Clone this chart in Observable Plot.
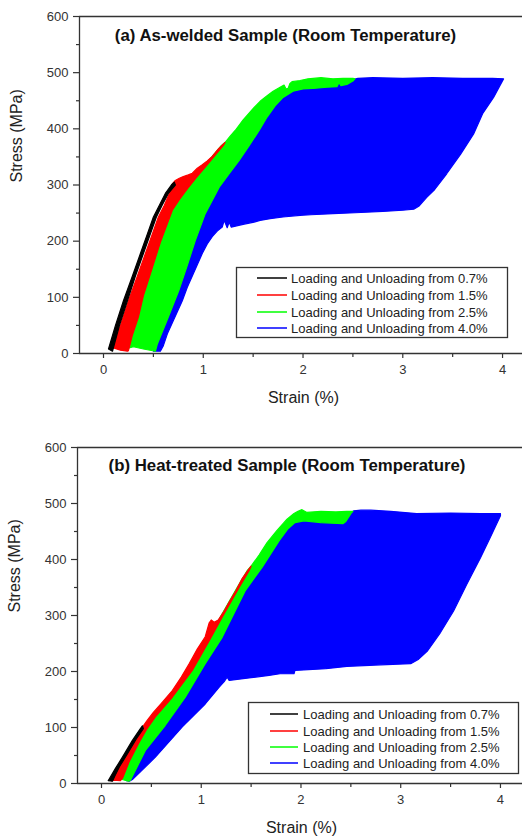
<!DOCTYPE html>
<html>
<head>
<meta charset="utf-8">
<script src="https://cdn.jsdelivr.net/npm/d3@7"></script>
<script src="https://cdn.jsdelivr.net/npm/@observablehq/plot@0.6"></script>
<style>
  html, body { margin: 0; padding: 0; background: #fff; overflow: hidden; }
  #wrap { position: relative; width: 522px; height: 837px; overflow: hidden; font-family: "Liberation Sans", Arial, sans-serif; }
  #wrap svg.plot { display: block; }
  #overlay { position: absolute; left: 0; top: 0; pointer-events: none; }
</style>
</head>
<body>
<div id="wrap"></div>
<script>
// ---------- data (strain %, stress MPa): outlines of the filled cyclic bands ----------
const seriesNames = ["Loading and Unloading from 0.7%", "Loading and Unloading from 1.5%",
                     "Loading and Unloading from 2.5%", "Loading and Unloading from 4.0%"];
const seriesColors = ["#000000", "#ff0000", "#00ff00", "#0000ff"];

const yMajorTicks = [0, 100, 200, 300, 400, 500, 600];
const yMinorTicks = [50, 150, 250, 350, 450, 550];
const xMajorTicks = [0, 1, 2, 3, 4];
const xMinorTicks = [0.5, 1.5, 2.5, 3.5];

const titleA = "(a) As-welded Sample (Room Temperature)";
const titleB = "(b) Heat-treated Sample (Room Temperature)";
const xLabel = "Strain (%)";
const yLabel = "Stress (MPa)";

// Panel (a) As-welded
const aBlack = [[0.05,8],[0.12,50],[0.20,94],[0.29,138],[0.37,178],[0.44,213],[0.50,243],[0.56,264],[0.62,285],[0.68,300],[0.71,305],
  [0.72,300],[0.65,285],[0.59,265],[0.53,243],[0.47,213],[0.40,178],[0.32,138],[0.24,94],[0.16,50],[0.09,4]];
const aRed = [[0.08,8],[0.17,50],[0.25,94],[0.34,138],[0.42,178],[0.49,213],[0.55,243],[0.61,264],[0.66,285],[0.69,302],
  [0.72,308],[0.76,312],[0.80,315],[0.85,318],[0.89,321],[0.94,330],[0.99,336],[1.04,343],[1.09,351],[1.15,364],[1.19,371],[1.22,376],
  [1.20,370],[1.11,351],[1.02,332],[0.93,313],[0.84,293],[0.76,274],[0.69,255],[0.57,198],[0.47,142],[0.40,103],[0.35,65],[0.29,33],[0.25,5],[0.24,4],
  [0.17,6],[0.10,10]];
const aGreen = [[0.22,8],[0.28,40],[0.34,65],[0.45,142],[0.56,198],[0.67,255],[0.74,274],[0.82,293],[0.91,313],[1.00,332],[1.09,351],[1.18,370],[1.22,376],
  [1.27,387],[1.32,397],[1.40,416],[1.51,438],[1.57,449],[1.64,459],[1.70,467],[1.77,474],[1.81,478],[1.83,471],[1.85,472],[1.87,481],[1.89,484],
  [1.97,486],[2.05,489],[2.18,491],[2.30,489],[2.40,490],[2.50,490],[2.52,489],
  [2.50,485],[2.44,479],[2.38,477],[2.36,482],[2.34,475],[2.24,474],[2.10,472],[2.00,471],[1.90,467],[1.80,456],[1.72,441],[1.64,421],[1.56,397],
  [1.46,370],[1.36,344],[1.26,320],[1.16,296],[1.02,249],[0.92,201],[0.84,157],[0.755,112],[0.65,65],[0.54,17],[0.52,4],
  [0.40,8],[0.30,12]];
const aBlue = [[0.50,4],[0.52,17],[0.73,112],[0.90,201],[1.00,249],[1.14,296],[1.34,344],[1.54,397],[1.70,440],[1.88,467],[2.00,478],[2.24,482],[2.44,485],
  [2.55,490],[2.70,491],[3.00,490],[3.30,491],[3.60,490],[3.90,490],[4.01,489],
  [3.91,456],[3.80,427],[3.71,391],[3.58,355],[3.44,320],[3.32,292],[3.24,278],[3.16,262],[3.11,257],
  [3.00,255],[2.80,253],[2.58,251],[2.30,249],[2.08,247],[1.97,246],[1.80,243],[1.67,240],[1.57,237],[1.51,234],[1.40,230],[1.28,225],[1.26,234],[1.24,224],[1.21,237],[1.19,225],
  [1.14,218],[1.09,208],[1.04,195],[0.99,178],[0.84,118],[0.79,94],[0.64,35],[0.60,14],[0.57,4]];

// Panel (b) Heat-treated
const bBlack = [[0.067,5],[0.14,27],[0.21,47],[0.31,77],[0.39,98],[0.41,103],
  [0.42,98],[0.35,80],[0.25,50],[0.18,30],[0.13,12],[0.11,4]];
const bRed = [[0.10,5],[0.24,47],[0.34,77],[0.40,98],
  [0.46,113],[0.52,127],[0.60,143],[0.71,166],[0.80,190],[0.88,214],[0.96,240],[1.04,262],[1.08,287],[1.10,292],[1.13,288],[1.17,292],[1.22,305],
  [1.28,324],[1.35,345],[1.41,366],[1.47,381],[1.50,388],
  [1.48,380],[1.38,350],[1.30,325],[1.21,297],[1.08,255],[0.91,202],[0.71,154],[0.54,119],[0.45,96],[0.37,71],[0.28,40],[0.21,9],[0.19,5],
  [0.12,6]];
const bGreen = [[0.19,8],[0.26,40],[0.35,71],[0.43,96],[0.52,119],[0.69,154],[0.89,202],[1.06,255],[1.19,297],[1.28,325],[1.36,350],[1.46,380],[1.50,388],
  [1.58,408],[1.66,430],[1.76,452],[1.86,472],[1.93,482],[1.97,486],[2.01,489],[2.06,484],[2.20,486],[2.35,485],[2.46,486],[2.52,486],
  [2.50,482],[2.45,468],[2.42,464],[2.20,466],[2.03,469],[1.94,466],[1.87,455],[1.78,433],[1.61,386],[1.44,344],[1.21,261],[1.04,214],[0.84,154],[0.64,104],[0.44,59],[0.29,6],[0.27,4]];
const bBlue = [[0.25,5],[0.42,59],[0.62,104],[0.82,154],[1.02,214],[1.19,261],[1.42,344],[1.59,386],[1.76,433],[1.86,455],[1.94,468],[2.03,472],[2.42,470],
  [2.47,480],[2.53,487],[2.60,488],[2.70,488],[2.90,486],[3.16,482],[3.50,483],[3.80,482],[4.00,482],
  [4.00,478],[3.90,440],[3.80,403],[3.66,355],[3.53,308],[3.40,270],[3.27,237],[3.18,222],[3.10,214],
  [2.80,212],[2.46,209],[2.25,205],[1.94,202],[1.93,196],[1.79,196],[1.68,193],[1.50,189],[1.28,184],[1.26,190],[1.23,182],
  [1.18,172],[1.04,142],[0.81,101],[0.54,47],[0.31,7],[0.28,4]];

const panelA = [aBlue, aGreen, aRed, aBlack];   // drawn bottom to top
const panelB = [bBlue, bGreen, bRed, bBlack];
const drawColors = [seriesColors[3], seriesColors[2], seriesColors[1], seriesColors[0]];

// ---------- drawing ----------
const axisColor = "#333";
const xMin = -0.2406;

function makePanel({polys, title, height, marginTop, marginBottom, marginLeft, xMax, titleDx, titleDy, xlDx, ylDy}) {
  const svg = Plot.plot({
    width: 522,
    height,
    marginTop, marginBottom, marginLeft, marginRight: 0,
    x: {domain: [xMin, xMax]},
    y: {domain: [0, 600]},
    style: {fontFamily: "'Liberation Sans', Arial, sans-serif", color: axisColor, background: "transparent"},
    marks: [
      ...polys.map((p, i) => Plot.line(p, {x: d => d[0], y: d => d[1], fill: drawColors[i], stroke: drawColors[i], strokeWidth: 1.2, curve: "linear-closed"})),
      Plot.ruleY([600], {stroke: axisColor, strokeWidth: 1.3}),
      Plot.ruleY([0], {stroke: axisColor, strokeWidth: 1.3}),
      Plot.ruleX([xMin], {stroke: axisColor, strokeWidth: 1.3}),
      Plot.axisY(yMajorTicks, {anchor: "left", tickSize: 6, tickPadding: 5, fontSize: 13, label: null, strokeWidth: 1.2, tickFormat: d => String(d)}),
      Plot.axisY(yMinorTicks, {anchor: "left", tickSize: 3, label: null, strokeWidth: 1.2, tickFormat: () => ""}),
      Plot.axisX(xMajorTicks, {anchor: "bottom", tickSize: 5, tickPadding: 6, fontSize: 13, label: null, strokeWidth: 1.2, tickFormat: d => String(d)}),
      Plot.axisX(xMinorTicks, {anchor: "bottom", tickSize: 4, label: null, strokeWidth: 1.2, tickFormat: () => ""}),
      Plot.text([title], {text: d => d, frameAnchor: "top", dx: titleDx, dy: titleDy, lineAnchor: "middle", fontSize: 16.8, fontWeight: "bold", fill: "#111"}),
      Plot.text([xLabel], {text: d => d, frameAnchor: "bottom", dx: xlDx, dy: 44, lineAnchor: "middle", fontSize: 16, fill: "#222"}),
      Plot.text([yLabel], {text: d => d, frameAnchor: "left", dx: -63, dy: ylDy, rotate: -90, lineAnchor: "middle", fontSize: 16, fill: "#222"})
    ]
  });
  svg.classList.add("plot");
  return svg;
}

const wrap = document.getElementById("wrap");
wrap.appendChild(makePanel({polys: panelA, title: titleA, height: 418, marginTop: 16, marginBottom: 65, marginLeft: 79,
  xMax: 4.200, titleDx: -15.5, titleDy: 19, xlDx: 2.5, ylDy: -2.5}));
wrap.appendChild(makePanel({polys: panelB, title: titleB, height: 419, marginTop: 29, marginBottom: 54, marginLeft: 77,
  xMax: 4.221, titleDx: -13, titleDy: 18, xlDx: 1.5, ylDy: -3}));

// ---------- legends (SVG overlay) ----------
const overlay = d3.select(wrap).append("svg").attr("id", "overlay").attr("width", 522).attr("height", 837);
// keep the right edge of each panel open (the original frame is cut off there)
overlay.append("rect").attr("x", 518.5).attr("y", 18).attr("width", 4).attr("height", 333).attr("fill", "#fff");
overlay.append("rect").attr("x", 518.5).attr("y", 449).attr("width", 4).attr("height", 332).attr("fill", "#fff");
function legend(x, y, w, h, lineX0, lineX1, textX, rowYs) {
  const g = overlay.append("g");
  g.append("rect").attr("x", x).attr("y", y).attr("width", w).attr("height", h)
    .attr("fill", "#fff").attr("stroke", axisColor).attr("stroke-width", 1.3);
  seriesNames.forEach((name, i) => {
    g.append("line").attr("x1", lineX0).attr("x2", lineX1).attr("y1", rowYs[i]).attr("y2", rowYs[i])
      .attr("stroke", seriesColors[i]).attr("stroke-width", 1.5);
    g.append("text").attr("x", textX).attr("y", rowYs[i]).attr("dy", "0.36em")
      .attr("font-family", "'Liberation Sans', Arial, sans-serif").attr("font-size", 13).attr("fill", "#222").text(name);
  });
}
legend(236.5, 267.5, 271, 70, 257, 287, 291, [278, 295, 312, 328]);
legend(248.5, 702.5, 270, 71, 270, 298, 303, [714, 731, 747, 763]);
</script>
</body>
</html>
